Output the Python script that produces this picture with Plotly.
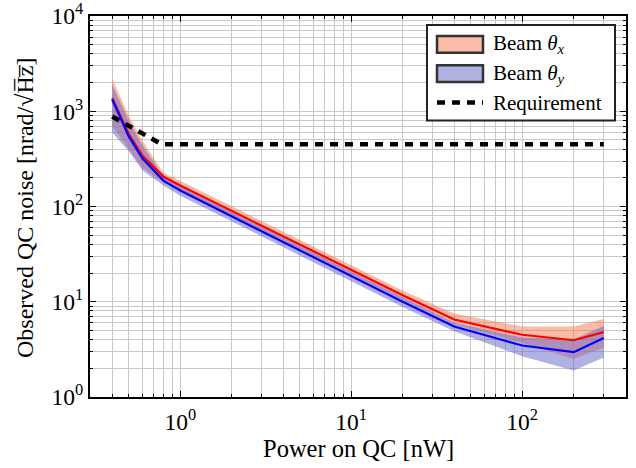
import numpy as np
import plotly.graph_objects as go

# ---- data ----
power = [0.4, 0.5, 0.6, 0.8, 1, 2, 4, 10, 20, 40, 100, 200, 300]

theta_x = [1380, 575, 343, 205, 166, 90, 49, 21.6, 11.7, 6.5, 4.5, 3.94, 4.8]
theta_x_hi = [2200, 900, 490, 225, 186, 101, 55, 24.2, 13.1, 7.5, 5.5, 5.5, 6.6]
theta_x_lo = [700, 400, 255, 178, 150, 81, 44, 19.4, 10.5, 5.8, 3.7, 2.5, 3.3]

theta_y = [1330, 545, 321, 186, 147, 79, 42.5, 18.6, 10.0, 5.5, 3.47, 2.95, 4.16]
theta_y_hi = [1900, 800, 440, 205, 162, 87, 46.8, 20.5, 11.0, 6.0, 4.2, 4.0, 5.6]
theta_y_lo = [600, 380, 240, 165, 130, 70, 37.5, 16.4, 8.8, 4.9, 2.68, 1.9, 2.6]

req_power = [0.4, 0.5, 0.6, 0.7, 0.78, 300]
req_value = [880, 710, 590, 505, 450, 450]

legend_labels = ["Beam <i>θ</i><sub><i>x</i></sub>",
                 "Beam <i>θ</i><sub><i>y</i></sub>",
                 "Requirement"]
x_title = "Power on QC [nW]"
y_title = "Observed QC noise [nrad/√H\u0305z\u0305]"

x_tickvals = [1, 10, 100]
x_ticktext = ["10<sup>0</sup>", "10<sup>1</sup>", "10<sup>2</sup>"]
y_tickvals = [1, 10, 100, 1000, 10000]
y_ticktext = ["10<sup>0</sup>", "10<sup>1</sup>", "10<sup>2</sup>", "10<sup>3</sup>", "10<sup>4</sup>"]

# ---- styles ----
RED_FILL = "rgba(245,120,80,0.5)"
BLUE_FILL = "rgba(100,100,200,0.5)"
GRID = "#c8c8c8"
FONT = "Times New Roman, Liberation Serif, DejaVu Serif, serif"

fig = go.Figure()


def band(x, lo, hi, color):
    return go.Scatter(
        x=list(x) + list(x)[::-1],
        y=list(hi) + list(lo)[::-1],
        fill="toself", fillcolor=color, mode="lines",
        line=dict(width=0), showlegend=False, hoverinfo="skip",
    )


fig.add_trace(band(power, theta_x_lo, theta_x_hi, RED_FILL))
fig.add_trace(band(power, theta_y_lo, theta_y_hi, BLUE_FILL))
fig.add_trace(go.Scatter(x=power, y=theta_x, mode="lines",
                         line=dict(color="#ff0000", width=2.2), showlegend=False))
fig.add_trace(go.Scatter(x=power, y=theta_y, mode="lines",
                         line=dict(color="#0000ff", width=2.2), showlegend=False))
fig.add_trace(go.Scatter(x=req_power, y=req_value, mode="lines",
                         line=dict(color="black", width=4.5, dash="8px,7px"),
                         showlegend=False))

x_minor = [m * 10 ** e for e in range(-1, 3) for m in range(2, 10)]
y_minor = [m * 10 ** e for e in range(0, 4) for m in range(2, 10)]

axis_common = dict(
    type="log", showline=True, linecolor="black", linewidth=2, mirror="allticks",
    ticks="inside", ticklen=6, tickcolor="black", tickwidth=1,
    showgrid=True, gridcolor=GRID, gridwidth=1, zeroline=False,
    tickmode="array", tickfont=dict(family=FONT, size=23.5, color="black"),
    ticklabeloverflow="allow", automargin=False,
)

fig.update_xaxes(
    **axis_common,
    range=[np.log10(0.4) - 0.13, np.log10(300) + 0.13],
    tickvals=x_tickvals, ticktext=x_ticktext,
    ticklabelstandoff=3,
    minor=dict(tickmode="array", tickvals=x_minor, showgrid=True, gridcolor=GRID,
               ticks="inside", ticklen=3, tickcolor="black"),
)
fig.update_yaxes(
    **axis_common,
    range=[-0.0005, 4.0005],
    tickvals=y_tickvals, ticktext=y_ticktext,
    minor=dict(tickmode="array", tickvals=y_minor, showgrid=True, gridcolor=GRID,
               ticks="inside", ticklen=3, tickcolor="black"),
)

# axis titles
fig.add_annotation(xref="paper", yref="paper", x=0.5, y=-0.135, text=x_title,
                   showarrow=False, xanchor="center", yanchor="middle",
                   font=dict(family=FONT, size=24.5, color="black"))
fig.add_annotation(xref="paper", yref="paper", x=-0.1213, y=0.496, text=y_title,
                   showarrow=False, xanchor="center", yanchor="middle", textangle=-90,
                   font=dict(family=FONT, size=24, color="black"))

# ---- manual legend (paper coordinates) ----
L_X0, L_X1, L_Y0, L_Y1 = 0.6287, 0.9795, 0.7258, 0.9765
P_X0, P_X1 = 0.6474, 0.7332
TEXT_X = 0.748
ROWS = [0.9256, 0.8486, 0.7728]
PATCH_H = 0.044

fig.add_shape(type="rect", xref="paper", yref="paper",
              x0=L_X0, x1=L_X1, y0=L_Y0, y1=L_Y1,
              fillcolor="white", line=dict(color="#222222", width=2), layer="above")
for yc, col in zip(ROWS[:2], [RED_FILL, BLUE_FILL]):
    fig.add_shape(type="rect", xref="paper", yref="paper",
                  x0=P_X0, x1=P_X1, y0=yc - PATCH_H / 2, y1=yc + PATCH_H / 2,
                  fillcolor=col, line=dict(color="#333333", width=2.5), layer="above")
fig.add_shape(type="line", xref="paper", yref="paper",
              x0=P_X0, x1=P_X1, y0=ROWS[2], y1=ROWS[2],
              line=dict(color="black", width=4.5, dash="8px,7px"), layer="above")
for yc, txt in zip(ROWS, legend_labels):
    fig.add_annotation(xref="paper", yref="paper", x=TEXT_X, y=yc, text=txt,
                       showarrow=False, xanchor="left", yanchor="middle",
                       font=dict(family=FONT, size=21, color="black"))

fig.update_layout(
    width=636, height=468,
    margin=dict(l=90, r=10, t=16, b=71, autoexpand=False),
    paper_bgcolor="white", plot_bgcolor="white",
    font=dict(family=FONT, size=21, color="black"),
    showlegend=False,
)

fig.write_html("out.html")
